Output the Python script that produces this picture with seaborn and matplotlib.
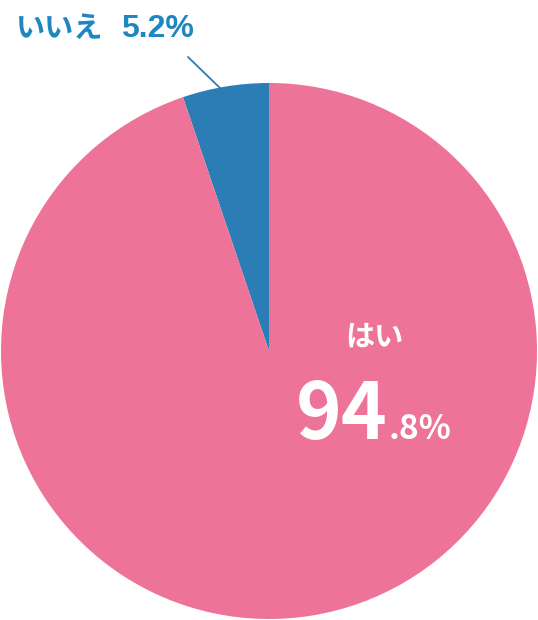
import matplotlib
matplotlib.use('Agg')
import matplotlib.pyplot as plt
import seaborn as sns

labels = ['いいえ', 'はい']
values = [5.2, 94.8]
colors = ['#2a7db5', '#ee7399']

sns.set_theme(style='white')
plt.rcParams['font.family'] = ['Noto Sans CJK JP', 'DejaVu Sans']

fig = plt.figure(figsize=(5.38, 6.2), dpi=100)
ax = fig.add_axes([0, 0, 1, 1])

ax.pie(values, colors=colors, startangle=90, counterclock=True,
       center=(269, 269), radius=268, wedgeprops=dict(linewidth=0))

# pie() resets the view, so fix it afterwards
ax.set_xlim(0, 538)
ax.set_ylim(0, 620)
ax.set_aspect('auto')
ax.axis('off')

# leader line for the small slice
ax.plot([188, 220], [563, 532], color='#2a7db5', linewidth=1.3)
ax.text(16, 583, labels[0], color='#1e86c0', fontsize=21,
        fontweight='bold', ha='left', va='baseline')
ax.text(121, 583, f'{values[0]}%', color='#1e86c0', fontsize=23,
        fontweight='bold', ha='left', va='baseline',
        family=['Liberation Sans', 'DejaVu Sans'])

big, small = f'{values[1]:.1f}'.split('.')
ax.text(374, 283, labels[1], color='white', fontsize=21, fontweight='bold',
        ha='center', va='center')
ax.text(388, 181, big, color='white', fontsize=56, fontweight='bold',
        ha='right', va='baseline')
ax.text(389, 181, f'.{small}%', color='white', fontsize=24, fontweight='bold',
        ha='left', va='baseline')

fig.savefig('out.png', dpi=100)
